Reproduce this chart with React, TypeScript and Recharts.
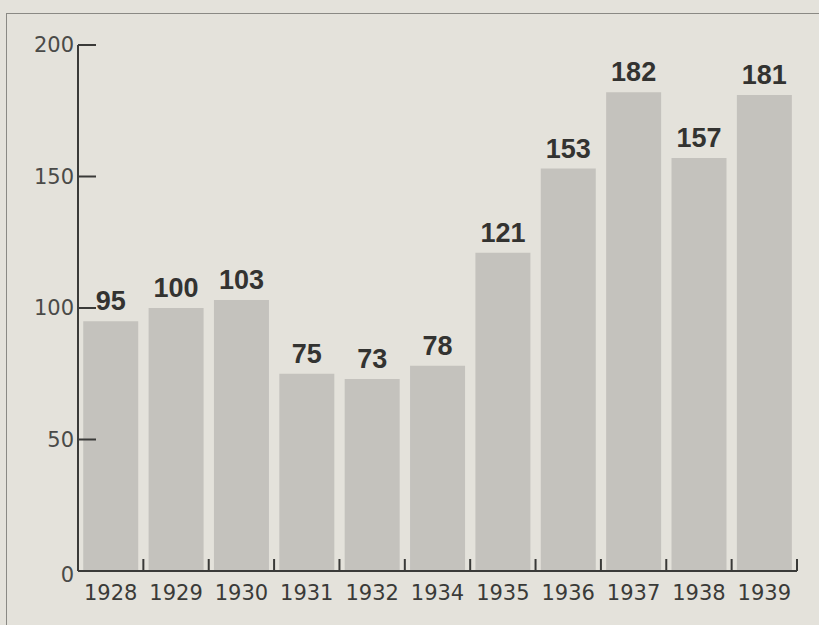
import { BarChart, Bar, XAxis, YAxis, LabelList } from "recharts"

const years = ["1928", "1929", "1930", "1931", "1932", "1934", "1935", "1936", "1937", "1938", "1939"]
const values = [95, 100, 103, 75, 73, 78, 121, 153, 182, 157, 181]
const yTicks = [0, 50, 100, 150, 200]

const data = years.map((year, i) => ({ year, value: values[i] }))

const W = 819
const H = 625
const M = { top: 45, right: 22, bottom: 24, left: 0 }
const Y_W = 78
const BAND = (W - M.left - M.right - Y_W) / years.length

const INK = "#3a3a38"

// y ticks point into the plot, labels sit left of the axis
function YTick({ x, y, payload }: any) {
  return (
    <g>
      {payload.value !== 0 && <line x1={x} x2={x + 18} y1={y} y2={y} stroke={INK} strokeWidth={2} />}
      <text x={x - 4} y={y + (payload.value === 0 ? 4 : 0)} dy="0.35em" textAnchor="end" fontSize={21} fill="#4a4a48" fontFamily="DejaVu Sans">
        {payload.value}
      </text>
    </g>
  )
}

// tick marks between the bars, pointing up
function XTick({ x, y, payload }: any) {
  const tx = x + BAND / 2
  return (
    <g>
      <line x1={tx} x2={tx} y1={y - 12} y2={y} stroke={INK} strokeWidth={2} />
      <text x={x} y={y + 22} dy="0.35em" textAnchor="middle" fontSize={21} fill="#3a3a38" fontFamily="DejaVu Sans">
        {payload.value}
      </text>
    </g>
  )
}

export default function App() {
  return (
    <div style={{ position: "fixed", left: 0, top: 0, width: W, height: H, background: "#e4e2db", overflow: "hidden" }}>
      <div style={{ position: "absolute", left: 6, top: 13, width: W, height: H, borderTop: "1px solid #8a8984", borderLeft: "1px solid #8a8984" }} />
      <BarChart width={W} height={H} data={data} margin={M} barCategoryGap="8%">
        <YAxis
          type="number"
          domain={[0, 200]}
          ticks={yTicks}
          width={Y_W}
          tickSize={0}
          tickMargin={0}
          tickLine={false}
          axisLine={{ stroke: INK, strokeWidth: 2 }}
          tick={<YTick />}
          interval={0}
        />
        <XAxis
          dataKey="year"
          height={30}
          tickSize={0}
          tickMargin={0}
          tickLine={false}
          axisLine={{ stroke: INK, strokeWidth: 2 }}
          tick={<XTick />}
          interval={0}
        />
        <Bar dataKey="value" fill="#c4c2bd" isAnimationActive={false}>
          <LabelList
            dataKey="value"
            position="top"
            offset={11}
            fill="#333331"
            fontSize={27}
            fontWeight="bold"
            fontFamily="Liberation Sans"
          />
        </Bar>
      </BarChart>
    </div>
  )
}
